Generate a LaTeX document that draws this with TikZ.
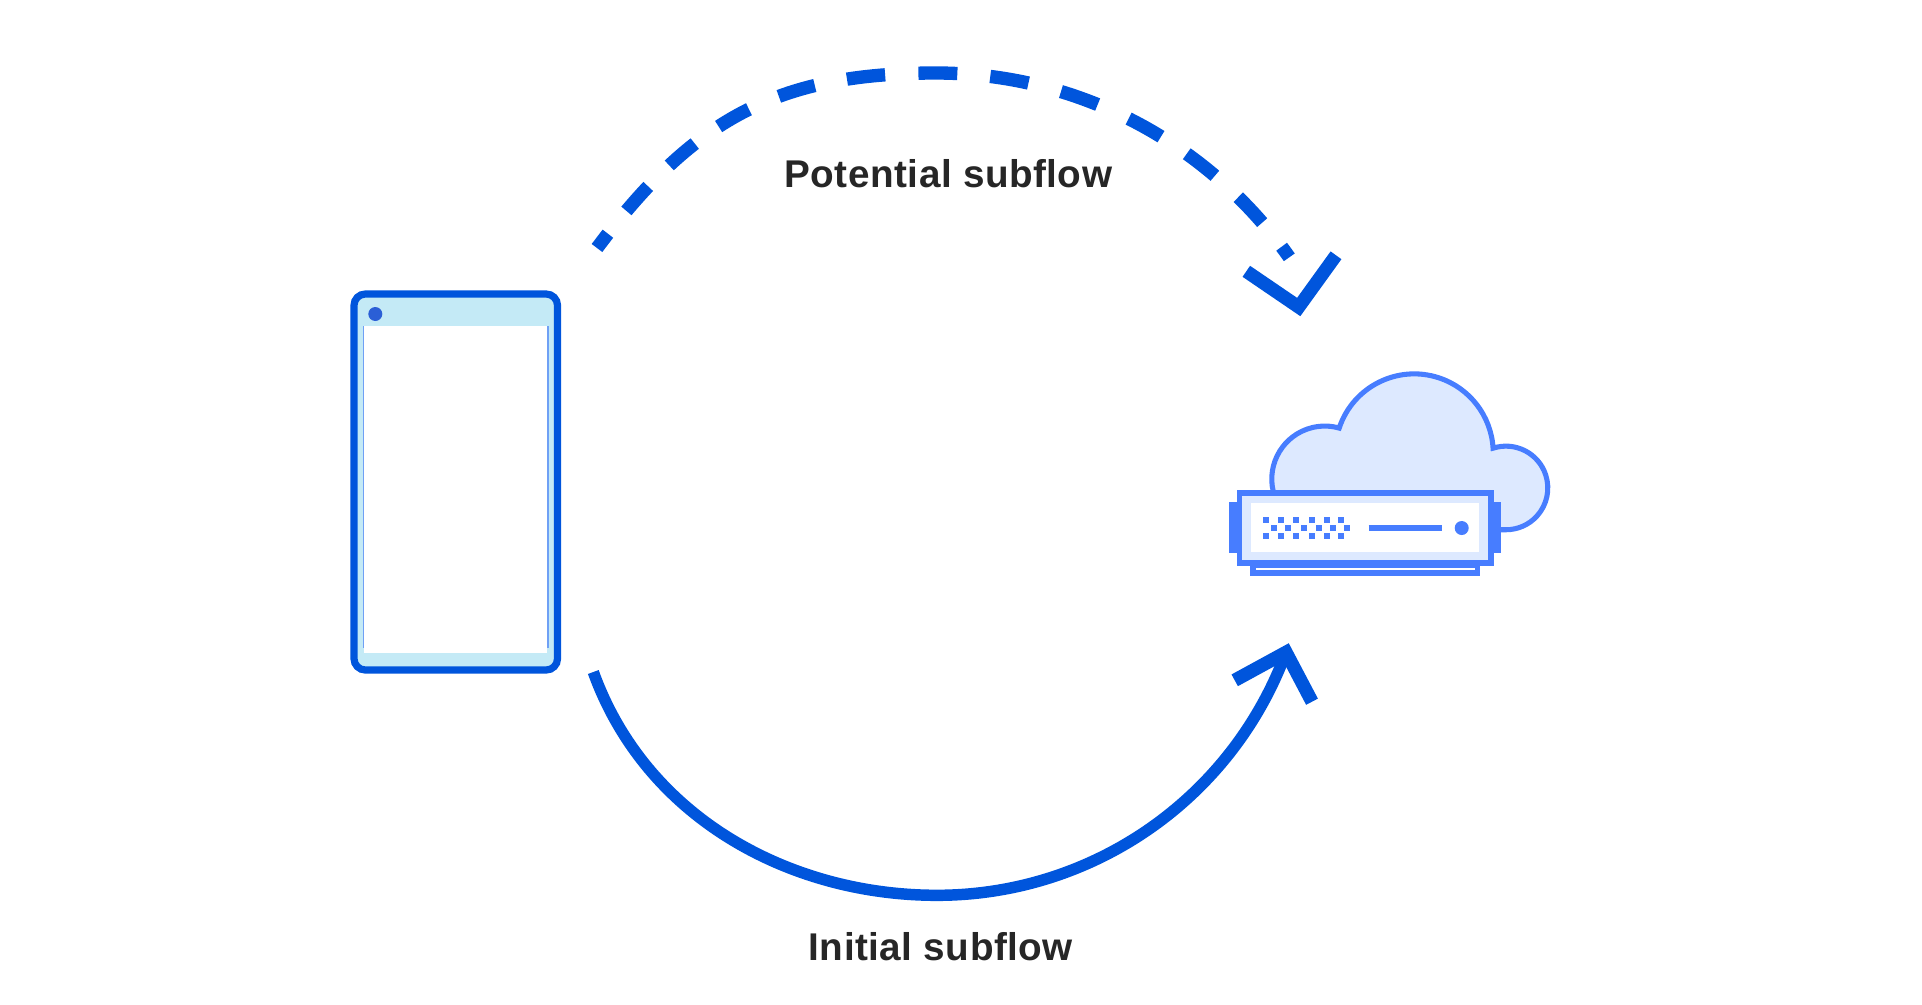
\documentclass[tikz,border=0pt]{standalone}
\usepackage{fontspec}
\setmainfont[LetterSpace=1.3]{Liberation Sans}
\definecolor{flow}{HTML}{0055DC}
\definecolor{phonefill}{HTML}{C4EAF6}
\definecolor{phoneline}{HTML}{6FA0F5}
\definecolor{phonedot}{HTML}{2B5FD6}
\definecolor{iconline}{HTML}{477DFF}
\definecolor{iconfill}{HTML}{DDE9FF}
\definecolor{labeltext}{HTML}{262626}
\tikzset{
  flowline/.style={draw=flow,line width=8.6pt,line cap=butt},
  flowhead/.style={draw=flow,line width=10pt,miter limit=10,line join=miter},
  flowdash/.style={flowline,line width=10pt,
    dash pattern=on 13.5pt off 22pt on 24.6pt off 22.3pt on 25.2pt off 22pt on 26.2pt off 24.4pt
      on 28.2pt off 24.6pt on 28.8pt off 25pt on 29.2pt off 24.8pt on 29.1pt off 25.2pt
      on 29.2pt off 25.5pt on 27.8pt off 23.2pt on 26.8pt off 23.8pt on 26.2pt off 23.2pt on 13.2pt off 20pt},
  flowlabel/.style={font=\bfseries\fontsize{29pt}{32pt}\selectfont,text=labeltext,anchor=base,inner sep=0pt},
  iconstroke/.style={draw=iconline,line width=3.8pt},
  pixdot/.style={fill=iconline}
}
\begin{document}
\begin{tikzpicture}[x=0.75pt,y=-0.75pt]
\useasboundingbox (0,0) rectangle (1922,1004);
% phone
\fill[phonefill,rounded corners=8pt] (354,294) rectangle (557.5,670);
\fill[white] (364,326) rectangle (547.3,653.3);
\draw[phoneline,line width=1.1pt] (363.4,326) -- (363.4,648);
\draw[phoneline,line width=1.1pt] (547.9,326) -- (547.9,648);
\draw[flow,line width=5.4pt,rounded corners=8.5pt] (354,294) rectangle (557.5,670);
\fill[phonedot] (375.3,314) circle[radius=7];
% cloud
\coordinate (cloudstart) at (1273.3,491.7);
\filldraw[iconstroke,fill=iconfill]
  (cloudstart) arc[start angle=166.2,end angle=285.8,radius=53]
  arc[start angle=198.3,end angle=356.6,radius=79]
  arc[start angle=252,end angle=450,radius=41.8] -- (1400,529) -- (1273.3,529) -- cycle;
% tray
\filldraw[iconstroke,fill=white] (1253,565) rectangle (1477.5,573);
% ears
\fill[iconline] (1229.3,502) rectangle (1239,553.3);
\fill[iconline] (1491,502) rectangle (1501,553.3);
% server body
\filldraw[iconstroke,fill=iconfill] (1239.5,493) rectangle (1491,563);
\fill[white] (1250.7,502.7) rectangle (1479.3,552.3);
\foreach \x in {1266.3,1281,1296.3,1312,1326.7,1341.3}{
  \fill[pixdot] (\x-2.9,519.7-2.9) rectangle (\x+2.9,519.7+2.9);
  \fill[pixdot] (\x-2.9,536-2.9) rectangle (\x+2.9,536+2.9);
}
\foreach \x in {1274,1288.3,1303.7,1319,1333,1347.3}{
  \fill[pixdot] (\x-2.9,527.7-2.9) rectangle (\x+2.9,527.7+2.9);
}
\draw[iconline,line width=3.8pt] (1368.7,528) -- (1442,528);
\fill[iconline] (1461.7,528) circle[radius=7];
% potential subflow
\coordinate (dashstart) at (597,248);
\coordinate (dashtop) at (936,73);
\coordinate (dashend) at (1289.3,257.3);
\draw[flowdash] (dashstart) .. controls (693,120) and (776,73) .. (dashtop)
  .. controls (1077,73) and (1208,142) .. (dashend);
\coordinate (dh1) at (1246.3,271.3);
\coordinate (dh2) at (1298.7,307);
\coordinate (dh3) at (1336,255.3);
\draw[flowhead] (dh1) -- (dh2) -- (dh3);
% initial subflow
\coordinate (solidstart) at (593.3,672);
\coordinate (solidlow) at (937,895.3);
\coordinate (sh1) at (1234.7,680.3);
\coordinate (sh2) at (1286,652.3);
\coordinate (sh3) at (1312,701.7);
\draw[flowline] (solidstart) .. controls (646,818) and (790,895.3) .. (solidlow)
  .. controls (1093,895.3) and (1232,798.3) .. (sh2);
\draw[flowhead] (sh1) -- (sh2) -- (sh3);
% labels
\node[flowlabel] (potential) at (948.3,187.3) {Potential subflow};
\node[flowlabel] (initial) at (940.8,960) {Initial subflow};
\end{tikzpicture}
\end{document}
